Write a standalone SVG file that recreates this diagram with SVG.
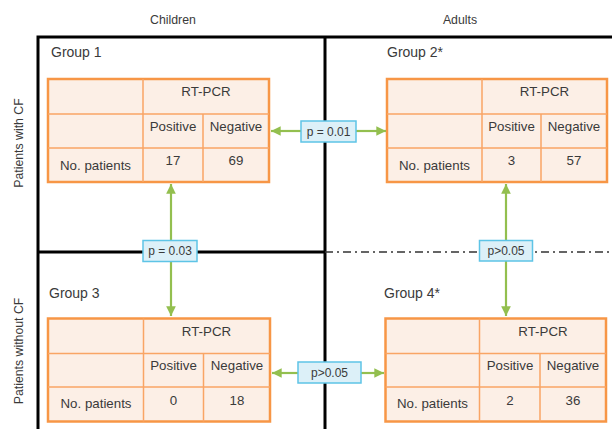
<svg xmlns="http://www.w3.org/2000/svg" width="612" height="429" viewBox="0 0 612 429">
<defs>
<style>
text{font-family:"Liberation Sans",Arial,sans-serif;fill:#3a3a3a}
.hdr{font-size:12.3px}
.grp{font-size:14px}
.cell{font-size:13.3px;text-anchor:middle}
.pv{font-size:12px;text-anchor:middle}
.frame{stroke:#000;stroke-width:3;fill:none}
.tbl{fill:#fcefe6;stroke:#f79646;stroke-width:2.5}
.grid{stroke:#f9a565;stroke-width:1.5;fill:none}
.pbox{fill:#dcf0f8;stroke:#5ec4e6;stroke-width:1.5}
.conn{stroke:#93bf4f;stroke-width:2.2;fill:none}
</style>
<marker id="ah" viewBox="0 0 10 10" refX="10" refY="5" markerWidth="4.4" markerHeight="4.4" orient="auto">
<path d="M0,0 L10,5 L0,10 Z" fill="#93bf4f"/>
</marker>
</defs>
<rect width="612" height="429" fill="#fff"/>

<g id="frame">
<path class="frame" d="M38,429 V37 H612"/>
<path class="frame" d="M325,37 V429"/>
<path class="frame" d="M38,252 H325"/>
<path d="M325,252 H612" stroke="#333" stroke-width="1.6" stroke-dasharray="8,4,2,4" fill="none"/>
</g>

<g id="labels">
<text class="hdr" x="173" y="24" text-anchor="middle">Children</text>
<text class="hdr" x="460" y="24" text-anchor="middle">Adults</text>
<text class="hdr" transform="translate(22.5,143) rotate(-90)" text-anchor="middle" font-size="12.7">Patients with CF</text>
<text class="hdr" transform="translate(22.5,351) rotate(-90)" text-anchor="middle" font-size="12.7">Patients without CF</text>
</g>

<g id="group1">
<text class="grp" x="51" y="57">Group 1</text>
<rect class="tbl" x="48" y="79" width="221" height="103"/>
<path class="grid" d="M143,79 V182 M203,114 V182 M48,114 H269 M48,148 H269"/>
<text class="cell" x="206" y="96">RT-PCR</text>
<text class="cell" x="173" y="131">Positive</text>
<text class="cell" x="236" y="131">Negative</text>
<text class="cell" x="95.5" y="169.5">No. patients</text>
<text class="cell" x="173" y="164.5">17</text>
<text class="cell" x="236" y="164.5">69</text>
</g>

<g id="group2">
<text class="grp" x="387" y="57">Group 2*</text>
<rect class="tbl" x="387" y="79" width="220" height="103"/>
<path class="grid" d="M482,79 V182 M541,114 V182 M387,114 H607 M387,148 H607"/>
<text class="cell" x="544.5" y="96">RT-PCR</text>
<text class="cell" x="511.5" y="131">Positive</text>
<text class="cell" x="574" y="131">Negative</text>
<text class="cell" x="434.5" y="169.5">No. patients</text>
<text class="cell" x="511.5" y="164.5">3</text>
<text class="cell" x="574" y="164.5">57</text>
</g>

<g id="group3">
<text class="grp" x="49" y="298">Group 3</text>
<rect class="tbl" x="48" y="318.5" width="222" height="103"/>
<path class="grid" d="M143.5,318.5 V421.5 M203.5,353.5 V421.5 M48,353.5 H270 M48,387 H270"/>
<text class="cell" x="206.5" y="336">RT-PCR</text>
<text class="cell" x="173.5" y="370">Positive</text>
<text class="cell" x="237" y="370">Negative</text>
<text class="cell" x="96" y="408">No. patients</text>
<text class="cell" x="173.5" y="404.5">0</text>
<text class="cell" x="237" y="404.5">18</text>
</g>

<g id="group4">
<text class="grp" x="384" y="298">Group 4*</text>
<rect class="tbl" x="385.5" y="318.5" width="220.5" height="103"/>
<path class="grid" d="M479.5,318.5 V421.5 M540,353.5 V421.5 M385.5,353.5 H606 M385.5,387 H606"/>
<text class="cell" x="543" y="336">RT-PCR</text>
<text class="cell" x="510" y="370">Positive</text>
<text class="cell" x="573" y="370">Negative</text>
<text class="cell" x="432.5" y="408">No. patients</text>
<text class="cell" x="510" y="404.5">2</text>
<text class="cell" x="573" y="404.5">36</text>
</g>

<g id="connectors">
<line class="conn" x1="301" y1="131" x2="271" y2="131" marker-end="url(#ah)"/>
<line class="conn" x1="356" y1="131" x2="386" y2="131" marker-end="url(#ah)"/>
<line class="conn" x1="171" y1="240" x2="171" y2="184" marker-end="url(#ah)"/>
<line class="conn" x1="171" y1="262" x2="171" y2="316" marker-end="url(#ah)"/>
<line class="conn" x1="506" y1="240" x2="506" y2="184" marker-end="url(#ah)"/>
<line class="conn" x1="506" y1="261" x2="506" y2="316" marker-end="url(#ah)"/>
<line class="conn" x1="298" y1="373" x2="272" y2="373" marker-end="url(#ah)"/>
<line class="conn" x1="361" y1="373" x2="384" y2="373" marker-end="url(#ah)"/>
</g>

<g id="p1">
<rect class="pbox" x="301" y="121" width="55" height="21"/>
<text class="pv" x="328.5" y="135.5">p = 0.01</text>
</g>
<g id="p2">
<rect class="pbox" x="143" y="240.5" width="54" height="21"/>
<text class="pv" x="170" y="255">p = 0.03</text>
</g>
<g id="p3">
<rect class="pbox" x="479.5" y="240.5" width="53" height="20.5"/>
<text class="pv" x="506" y="255">p&gt;0.05</text>
</g>
<g id="p4">
<rect class="pbox" x="298" y="362" width="63" height="21"/>
<text class="pv" x="329.5" y="377">p&gt;0.05</text>
</g>
</svg>
